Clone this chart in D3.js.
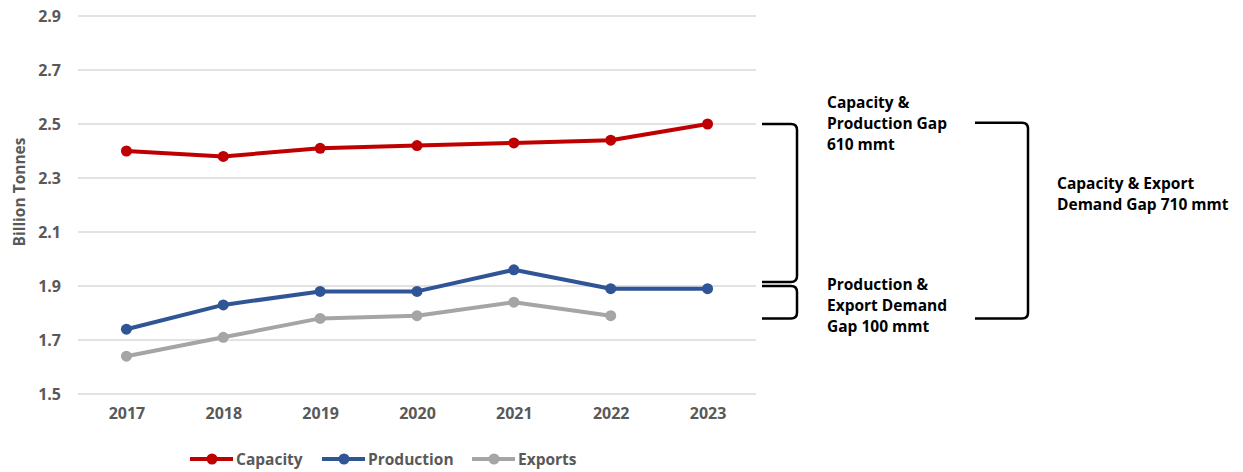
<!DOCTYPE html>
<html>
<head>
<meta charset="utf-8">
<script src="https://cdn.jsdelivr.net/npm/d3@7"></script>
<style>
  html, body { margin: 0; padding: 0; background: #fff; }
  svg { display: block; }
  text { font-family: "Open Sans", Lato, "Liberation Sans", sans-serif; }
</style>
</head>
<body>
<svg id="chart" width="1243" height="472"></svg>
<script>
// Chart data
const years = ["2017", "2018", "2019", "2020", "2021", "2022", "2023"];
const capacity = [2.40, 2.38, 2.41, 2.42, 2.43, 2.44, 2.50];
const production = [1.74, 1.83, 1.88, 1.88, 1.96, 1.89, 1.89];
const exportsData = [1.64, 1.71, 1.78, 1.79, 1.84, 1.79];
const yTicks = [1.5, 1.7, 1.9, 2.1, 2.3, 2.5, 2.7, 2.9];

const seriesNames = ["Capacity", "Production", "Exports"];
const seriesColors = ["#C00000", "#2F5597", "#A5A5A5"];
const series = [capacity, production, exportsData];

// Gap annotations
const gapLabels = [
  ["Capacity &", "Production Gap", "610 mmt"],
  ["Production &", "Export Demand", "Gap 100 mmt"],
  ["Capacity & Export", "Demand Gap 710 mmt"]
];

const svg = d3.select("#chart");

const plotLeft = 78, plotRight = 756;
const x = d3.scalePoint().domain(years).range([plotLeft, plotRight]).padding(0.5);
const y = d3.scaleLinear().domain([1.5, 2.9]).range([394, 16]);

// Gridlines
svg.append("g")
  .selectAll("line")
  .data(yTicks)
  .join("line")
  .attr("x1", plotLeft).attr("x2", plotRight)
  .attr("y1", d => y(d)).attr("y2", d => y(d))
  .attr("stroke", "#D9D9D9").attr("stroke-width", 1.3);

// Y axis labels
const yAxis = d3.axisLeft(y).tickValues(yTicks).tickFormat(d3.format(".1f")).tickSize(0).tickPadding(0);
const yg = svg.append("g").attr("transform", "translate(61,0)").call(yAxis);
yg.select(".domain").remove();
yg.selectAll("text")
  .attr("fill", "#595959").attr("font-size", 16).attr("font-weight", 700);

// X axis labels
const xAxis = d3.axisBottom(x).tickSize(0).tickPadding(0);
const xg = svg.append("g").attr("transform", "translate(0,408)").call(xAxis);
xg.select(".domain").remove();
xg.selectAll("text")
  .attr("fill", "#595959").attr("font-size", 16).attr("font-weight", 700);

// Y axis title
svg.append("text")
  .attr("transform", "translate(25,192) rotate(-90)")
  .attr("text-anchor", "middle")
  .attr("fill", "#595959").attr("font-size", 15.5).attr("font-weight", 700)
  .text("Billion Tonnes");

// Lines and markers
const line = d3.line().x((d, i) => x(years[i])).y(d => y(d));
series.forEach((vals, si) => {
  const g = svg.append("g");
  g.append("path")
    .datum(vals)
    .attr("d", line)
    .attr("fill", "none")
    .attr("stroke", seriesColors[si])
    .attr("stroke-width", 4)
    .attr("stroke-linejoin", "round");
  g.selectAll("circle")
    .data(vals)
    .join("circle")
    .attr("cx", (d, i) => x(years[i]))
    .attr("cy", d => y(d))
    .attr("r", 5.5)
    .attr("fill", seriesColors[si]);
});

// Legend
const legendX = [190, 322, 472];
const legend = svg.append("g");
seriesNames.forEach((name, i) => {
  const lx = legendX[i];
  legend.append("line")
    .attr("x1", lx).attr("x2", lx + 43)
    .attr("y1", 459).attr("y2", 459)
    .attr("stroke", seriesColors[i]).attr("stroke-width", 4);
  legend.append("circle")
    .attr("cx", lx + 22).attr("cy", 459).attr("r", 5.5)
    .attr("fill", seriesColors[i]);
  legend.append("text")
    .attr("x", lx + 46).attr("y", 465)
    .attr("fill", "#595959").attr("font-size", 15.5).attr("font-weight", 700)
    .text(name);
});

// Brackets: open on the left, rounded corners on the right
function bracket(x0, x1, yTop, yBot) {
  const r = 6;
  return `M${x0},${yTop} L${x1 - r},${yTop} Q${x1},${yTop} ${x1},${yTop + r} ` +
         `L${x1},${yBot - r} Q${x1},${yBot} ${x1 - r},${yBot} L${x0},${yBot}`;
}
const brackets = svg.append("g")
  .attr("fill", "none").attr("stroke", "#000").attr("stroke-width", 2.5);
brackets.append("path").attr("d", bracket(762, 797, y(2.5), y(1.915)));
brackets.append("path").attr("d", bracket(762, 797, y(1.9), y(1.78)));
brackets.append("path").attr("d", bracket(975, 1028, y(2.505), y(1.78)));

// Gap labels
const labelPos = [[827, 108], [827, 290], [1057, 189]];
gapLabels.forEach((lines, i) => {
  const t = svg.append("text")
    .attr("fill", "#000").attr("font-size", 15.5).attr("font-weight", 700);
  lines.forEach((s, j) => {
    t.append("tspan")
      .attr("x", labelPos[i][0])
      .attr("y", labelPos[i][1] + j * 21)
      .text(s);
  });
});
</script>
</body>
</html>
